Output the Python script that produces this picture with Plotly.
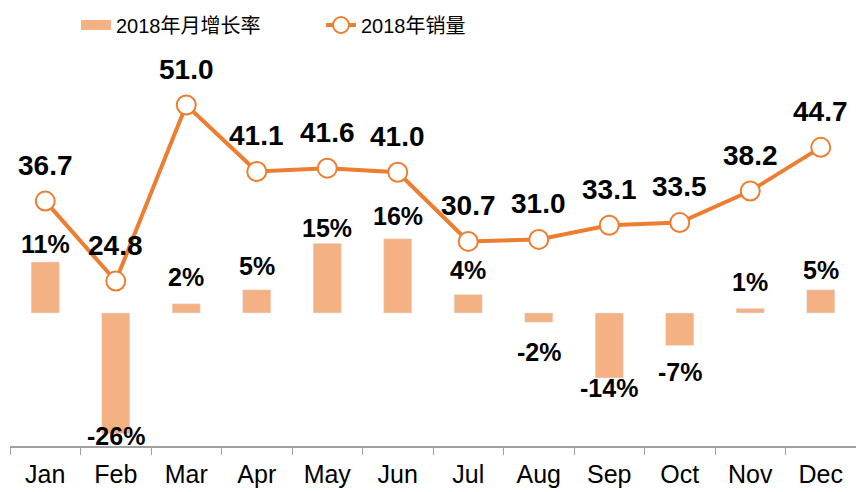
import plotly.graph_objects as go

months = ["Jan", "Feb", "Mar", "Apr", "May", "Jun",
          "Jul", "Aug", "Sep", "Oct", "Nov", "Dec"]
growth_pct = [11, -26, 2, 5, 15, 16, 4, -2, -14, -7, 1, 5]
sales = [36.7, 24.8, 51.0, 41.1, 41.6, 41.0, 30.7, 31.0, 33.1, 33.5, 38.2, 44.7]

BAR_COLOR = "#F4B183"
LINE_COLOR = "#ED7D31"
FONT = "Liberation Sans, Arial, Noto Sans CJK SC, sans-serif"

# label offsets (px) for the bar percentages, as placed in the original
bar_label_shift = [18, -2, 27, 24, 15, 23, 24, -30, -10, -27, 26, 20]

fig = go.Figure()

fig.add_trace(go.Bar(
    x=months, y=growth_pct, name="2018年月增长率", showlegend=False,
    marker_color=BAR_COLOR, width=0.4, yaxis="y",
))
# wide legend swatch for the bars (plotly's bar swatch is a small square)
fig.add_trace(go.Scatter(
    x=[None], y=[None], name="2018年月增长率", mode="lines",
    line=dict(color=BAR_COLOR, width=15), yaxis="y",
))
fig.add_trace(go.Scatter(
    x=months, y=sales, name="2018年销量", mode="lines+markers",
    line=dict(color=LINE_COLOR, width=4),
    marker=dict(size=19, color="white", line=dict(color=LINE_COLOR, width=2)),
    yaxis="y2",
))

annotations = []
for m, v in zip(months, sales):
    annotations.append(dict(
        x=m, y=v, yref="y2", text=f"<b>{v:.1f}</b>", showarrow=False,
        yshift=36, font=dict(size=28, color="black", family=FONT),
    ))
for m, v, s in zip(months, growth_pct, bar_label_shift):
    annotations.append(dict(
        x=m, y=v, yref="y", text=f"<b>{v}%</b>", showarrow=False,
        yshift=s, yanchor="middle",
        font=dict(size=25, color="black", family=FONT),
    ))

fig.update_layout(
    width=856, height=492,
    margin=dict(l=10, r=0, t=60, b=46, autoexpand=False),
    plot_bgcolor="white", paper_bgcolor="white",
    font=dict(family=FONT, color="black"),
    showlegend=True,
    legend=dict(
        orientation="h", x=0.078, xanchor="left",
        yref="container", y=1 - 25 / 492, yanchor="middle",
        font=dict(size=20, family=FONT), entrywidth=200,
        bgcolor="rgba(0,0,0,0)",
    ),
    xaxis=dict(
        range=[-0.5, 11.5],
        showline=True, linecolor="#A0A0A0", linewidth=2,
        ticks="outside", tickson="boundaries", ticklen=7, tickcolor="#A0A0A0",
        tickfont=dict(size=25, color="black"), showgrid=False,
        ticklabelstandoff=5,
    ),
    yaxis=dict(range=[-28.66, 54.5], visible=False, showgrid=False, zeroline=False),
    yaxis2=dict(range=[0.25, 57.7], overlaying="y", visible=False,
                showgrid=False, zeroline=False),
    annotations=annotations,
)

# drop the default page margin so the 856x492 figure fills the window
fig.write_html(
    "out.html",
    config={"displayModeBar": False},
    post_script="document.body.style.margin='0';",
)
